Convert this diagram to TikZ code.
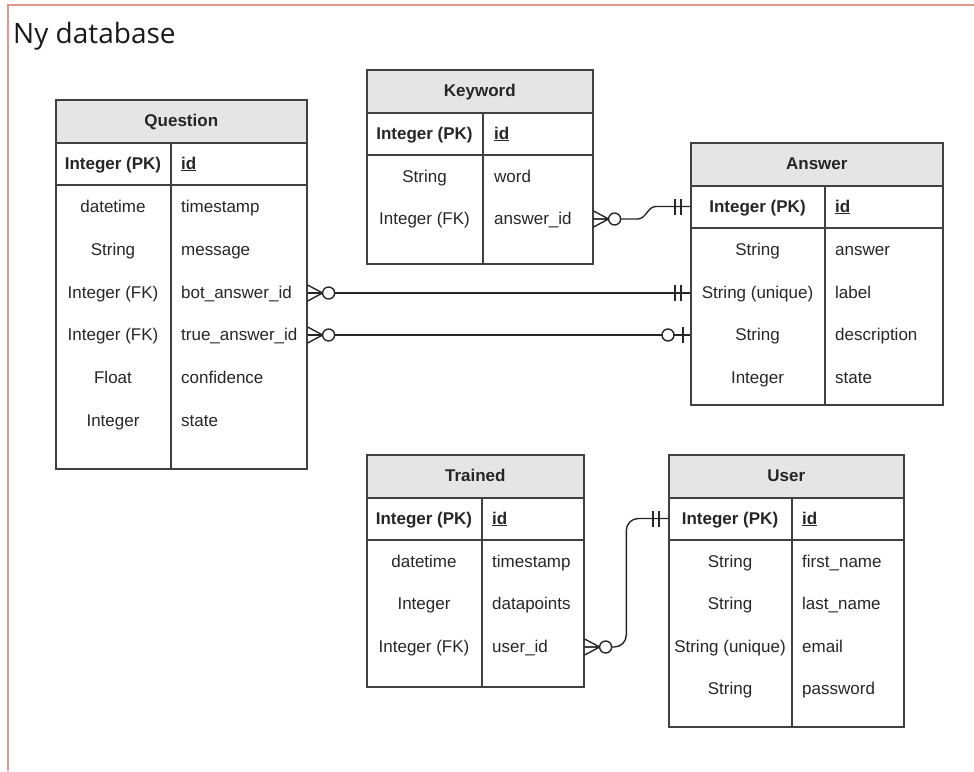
\documentclass[tikz,border=0pt]{standalone}
\usepackage{fontspec}
\setmainfont{Liberation Sans}
\newfontfamily\titlefont{Open Sans}
\usetikzlibrary{calc}
\definecolor{framered}{RGB}{225,150,135}

\begin{document}
\begin{tikzpicture}
[
    x=1pt, y=-1pt,
    every node/.style={font=\fontsize{17}{20}\selectfont, text=black!85, inner sep=0pt, text height=14.5pt, text depth=3.5pt},
    tbl/.style={draw=black!75, line width=1.6pt},
    tablebox/.style={tbl, anchor=north west},
    tablehead/.style={tbl, anchor=north west, fill=black!10, minimum height=43pt, font=\fontsize{17}{20}\selectfont\bfseries},
    pktype/.style={font=\fontsize{17}{20}\selectfont\bfseries},
    attr/.style={anchor=west},
    pkattr/.style={attr, font=\fontsize{17}{20}\selectfont\bfseries},
    conn/.style={draw=black!85, line width=1.4pt},
    zeromany/.pic={
        \draw[conn] (0,-8) -- (15,0) -- (0,8) (0,0) -- (15,0);
        \draw[conn, fill=white] (21,0) circle (6pt);
    },
    onlyone/.pic={\draw[conn] (-9,-8) -- (-9,8) (-15,-8) -- (-15,8);},
    zeroone/.pic={
        \draw[conn] (-7,-8) -- (-7,8);
        \draw[conn, fill=white] (-22,0) circle (6pt);
    },
]
\useasboundingbox (0,0) rectangle (974,771);
\draw[framered, line width=2pt] (8,771) -- (8,5) -- (974,5);
\node[font=\titlefont\fontsize{28}{32}\selectfont, anchor=base west, text=black!90] (title) at (13,43) {Ny database};

% Question
\node[tablebox, minimum width=251pt, minimum height=369pt] (question) at (55,99) {};
\node[tablehead, minimum width=251pt] (question-head) at (55,99) {Question};
\draw[tbl] (55,185) -- (306,185) (171,142) -- (171,468);
\node[pktype] (q-pktype) at (113,163.5) {Integer (PK)};
\node[pkattr] (q-pk) at (181,163.5) {\underline{id}};
\node (q-t1) at (113,207) {datetime};
\node[attr] (q-a1) at (181,207) {timestamp};
\node (q-t2) at (113,250) {String};
\node[attr] (q-a2) at (181,250) {message};
\node (q-t3) at (113,293) {Integer (FK)};
\node[attr] (q-a3) at (181,293) {bot\_answer\_id};
\node (q-t4) at (113,335) {Integer (FK)};
\node[attr] (q-a4) at (181,335) {true\_answer\_id};
\node (q-t5) at (113,378) {Float};
\node[attr] (q-a5) at (181,378) {confidence};
\node (q-t6) at (113,421) {Integer};
\node[attr] (q-a6) at (181,421) {state};

% Keyword
\node[tablebox, minimum width=226pt, minimum height=194pt] (keyword) at (366,69) {};
\node[tablehead, minimum width=226pt] (keyword-head) at (366,69) {Keyword};
\draw[tbl] (366,155) -- (592,155) (483,112) -- (483,263);
\node[pktype] (k-pktype) at (424.5,133.5) {Integer (PK)};
\node[pkattr] (k-pk) at (494,133.5) {\underline{id}};
\node (k-t1) at (424.5,177) {String};
\node[attr] (k-a1) at (494,177) {word};
\node (k-t2) at (424.5,219) {Integer (FK)};
\node[attr] (k-a2) at (494,219) {answer\_id};

% Answer
\node[tablebox, minimum width=252pt, minimum height=262pt] (answer) at (690,142) {};
\node[tablehead, minimum width=252pt] (answer-head) at (690,142) {Answer};
\draw[tbl] (690,228) -- (942,228) (825,185) -- (825,404);
\node[pktype] (an-pktype) at (757.5,206.5) {Integer (PK)};
\node[pkattr] (an-pk) at (835,206.5) {\underline{id}};
\node (an-t1) at (757.5,250) {String};
\node[attr] (an-a1) at (835,250) {answer};
\node (an-t2) at (757.5,293) {String (unique)};
\node[attr] (an-a2) at (835,293) {label};
\node (an-t3) at (757.5,335) {String};
\node[attr] (an-a3) at (835,335) {description};
\node (an-t4) at (757.5,378) {Integer};
\node[attr] (an-a4) at (835,378) {state};

% Trained
\node[tablebox, minimum width=217pt, minimum height=232pt] (trained) at (366,454) {};
\node[tablehead, minimum width=217pt] (trained-head) at (366,454) {Trained};
\draw[tbl] (366,540) -- (583,540) (482,497) -- (482,686);
\node[pktype] (t-pktype) at (424,518.5) {Integer (PK)};
\node[pkattr] (t-pk) at (492,518.5) {\underline{id}};
\node (t-t1) at (424,562) {datetime};
\node[attr] (t-a1) at (492,562) {timestamp};
\node (t-t2) at (424,604) {Integer};
\node[attr] (t-a2) at (492,604) {datapoints};
\node (t-t3) at (424,647) {Integer (FK)};
\node[attr] (t-a3) at (492,647) {user\_id};

% User
\node[tablebox, minimum width=235pt, minimum height=272pt] (user) at (668,454) {};
\node[tablehead, minimum width=235pt] (user-head) at (668,454) {User};
\draw[tbl] (668,540) -- (903,540) (792,497) -- (792,726);
\node[pktype] (u-pktype) at (730,518.5) {Integer (PK)};
\node[pkattr] (u-pk) at (802,518.5) {\underline{id}};
\node (u-t1) at (730,562) {String};
\node[attr] (u-a1) at (802,562) {first\_name};
\node (u-t2) at (730,604) {String};
\node[attr] (u-a2) at (802,604) {last\_name};
\node (u-t3) at (730,647) {String (unique)};
\node[attr] (u-a3) at (802,647) {email};
\node (u-t4) at (730,689) {String};
\node[attr] (u-a4) at (802,689) {password};

% relations
\draw[conn] (question.east |- q-a3) -- (answer.west |- an-a2);
\pic at (question.east |- q-a3) {zeromany};
\pic at (answer.west |- an-a2) {onlyone};
\draw[conn] (question.east |- q-a4) -- (answer.west |- an-a3);
\pic at (question.east |- q-a4) {zeromany};
\pic at (answer.west |- an-a3) {zeroone};
\draw[conn] (keyword.east |- k-a2) -- ++(44,0) to[out=0, in=180] ($(answer.west |- an-pk)+(-34,0)$) -- (answer.west |- an-pk);
\pic at (keyword.east |- k-a2) {zeromany};
\pic at (answer.west |- an-pk) {onlyone};
\coordinate (t-bend) at ($(trained.east)!.5!(user.west)$);
\draw[conn, rounded corners=12pt] (trained.east |- t-a3) -| (t-bend |- u-pk) -- (user.west |- u-pk);
\pic at (trained.east |- t-a3) {zeromany};
\pic at (user.west |- u-pk) {onlyone};
\end{tikzpicture}
\end{document}
